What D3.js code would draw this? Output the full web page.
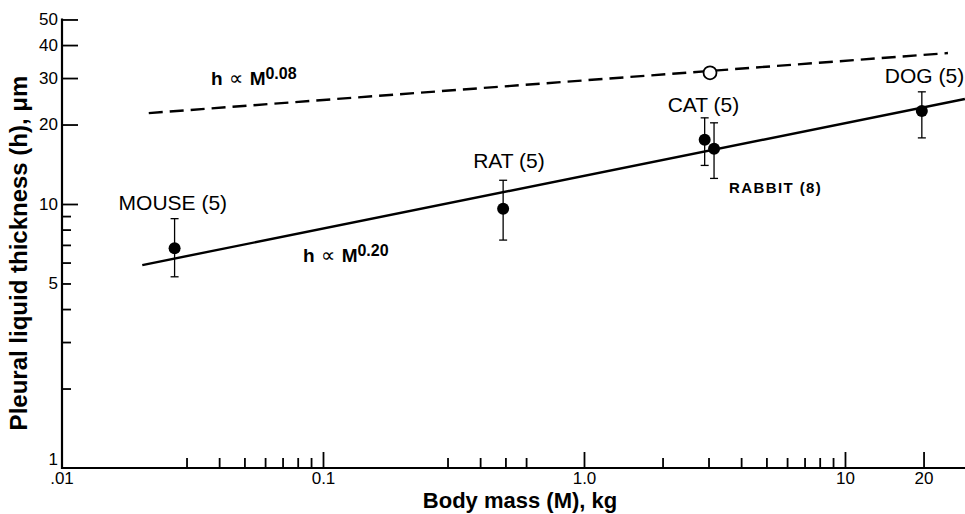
<!DOCTYPE html>
<html>
<head>
<meta charset="utf-8">
<script src="https://cdn.jsdelivr.net/npm/d3@7"></script>
<style>
  html, body { margin: 0; padding: 0; background: #fff; }
  svg { display: block; }
  text { font-family: "Liberation Sans", Arial, Helvetica, sans-serif; fill: #000; }
</style>
</head>
<body>
<svg id="chart" width="965" height="514"></svg>
<script>
// ---------- data ----------
const animals   = ["MOUSE (5)", "RAT (5)", "CAT (5)", "RABBIT (8)", "DOG (5)"];
const mass      = [0.027, 0.49, 2.9, 3.15, 19.7];     // kg
const thickness = [6.8, 9.6, 17.5, 16.2, 22.5];       // µm
const errHigh   = [8.8, 12.3, 21.2, 20.3, 26.6];
const errLow    = [5.3, 7.3, 14.0, 12.5, 17.8];

// fitted allometric lines (end points)
const fitMass   = [0.0203, 28.8];
const fitH      = [5.87, 25.0];      // h ∝ M^0.20
const dashMass  = [0.0215, 24.8];
const dashH     = [22.1, 37.3];      // h ∝ M^0.08
const openMass  = [3.04];
const openH     = [31.4];

// ticks
const xMajorTicks  = [0.1, 1, 10, 20];
const xMajorLabels = ["0.1", "1.0", "10", "20"];
const xMinorTicks  = [0.03, 0.04, 0.05, 0.06, 0.07, 0.08, 0.09, 0.3, 0.4, 0.5, 0.6, 2, 3, 4, 5, 6, 7, 8, 9];
const yMajorTicks  = [10, 20, 30, 40, 50];
const yMinorTicks  = [2, 3, 4, 5, 6, 7, 8, 9];
const yMinorLabels = {5: "5"};

// ---------- layout ----------
const svg = d3.select("#chart");
const x0 = 62, x1 = 965, y0 = 468;
const x = d3.scaleLog().domain([0.01, 28.83]).range([x0, x1]);
const y = d3.scaleLog().domain([1, 50]).range([y0, y0 - Math.log10(50) * 264]);

// axes
const gx = svg.append("g").attr("transform", `translate(0,${y0})`);
gx.append("g").call(d3.axisBottom(x).tickValues(xMinorTicks).tickSize(-10).tickSizeOuter(0).tickFormat(""))
  .call(g => g.select(".domain").remove());
gx.append("g").call(d3.axisBottom(x).tickValues(xMajorTicks).tickSize(-16).tickSizeOuter(0)
    .tickPadding(4).tickFormat((d, i) => xMajorLabels[i]))
  .call(g => g.select(".domain").remove());
gx.selectAll("line").attr("stroke", "#000").attr("stroke-width", 1.8);
gx.selectAll("text").attr("font-size", 17).attr("fill", "#000").attr("font-family", null);

const gy = svg.append("g").attr("transform", `translate(${x0},0)`);
gy.append("g").call(d3.axisLeft(y).tickValues(yMinorTicks).tickSize(-9).tickSizeOuter(0)
    .tickPadding(4).tickFormat(d => yMinorLabels[d] || ""))
  .call(g => g.select(".domain").remove());
gy.append("g").call(d3.axisLeft(y).tickValues(yMajorTicks).tickSize(-16).tickSizeOuter(0)
    .tickPadding(4).tickFormat(d3.format("d")))
  .call(g => g.select(".domain").remove());
gy.selectAll("line").attr("stroke", "#000").attr("stroke-width", 1.8);
gy.selectAll("text").attr("font-size", 17).attr("fill", "#000").attr("font-family", null);

// axis lines
svg.append("line").attr("x1", x0).attr("x2", x0).attr("y1", y(50) - 1).attr("y2", y0 + 1)
  .attr("stroke", "#000").attr("stroke-width", 2.2);
svg.append("line").attr("x1", x0 - 1).attr("x2", x1).attr("y1", y0).attr("y2", y0)
  .attr("stroke", "#000").attr("stroke-width", 2.2);

// corner labels
svg.append("text").attr("x", x0 - 4).attr("y", y(1) - 3).attr("text-anchor", "end")
  .attr("font-size", 17).text("1");
svg.append("text").attr("x", x(0.01)).attr("y", y0 + 16).attr("text-anchor", "middle")
  .attr("font-size", 17).text(".01");

// axis titles
svg.append("text").attr("x", 520).attr("y", 508).attr("text-anchor", "middle")
  .attr("font-size", 22).attr("font-weight", "bold").text("Body mass (M), kg");
svg.append("text").attr("transform", "translate(27,253) rotate(-90)").attr("text-anchor", "middle")
  .attr("font-size", 24).attr("font-weight", "bold").text("Pleural liquid thickness (h), μm");

// fit lines
const line = d3.line().x(d => x(d[0])).y(d => y(d[1]));
svg.append("path").datum(d3.zip(fitMass, fitH)).attr("d", line)
  .attr("fill", "none").attr("stroke", "#000").attr("stroke-width", 2.4);
svg.append("path").datum(d3.zip(dashMass, dashH)).attr("d", line)
  .attr("fill", "none").attr("stroke", "#000").attr("stroke-width", 2.4)
  .attr("stroke-dasharray", "14,7");

// open circle on dashed line
svg.selectAll("circle.open").data(d3.zip(openMass, openH)).join("circle")
  .attr("class", "open").attr("cx", d => x(d[0])).attr("cy", d => y(d[1])).attr("r", 6.5)
  .attr("fill", "#fff").attr("stroke", "#000").attr("stroke-width", 1.8);

// error bars
const pts = animals.map((a, i) => ({ a, m: mass[i], h: thickness[i], hi: errHigh[i], lo: errLow[i] }));
const eb = svg.append("g").attr("stroke", "#000").attr("stroke-width", 1.3);
pts.forEach(p => {
  eb.append("line").attr("x1", x(p.m)).attr("x2", x(p.m)).attr("y1", y(p.hi)).attr("y2", y(p.lo));
  eb.append("line").attr("x1", x(p.m) - 4).attr("x2", x(p.m) + 4).attr("y1", y(p.hi)).attr("y2", y(p.hi));
  eb.append("line").attr("x1", x(p.m) - 4).attr("x2", x(p.m) + 4).attr("y1", y(p.lo)).attr("y2", y(p.lo));
});
svg.selectAll("circle.pt").data(pts).join("circle").attr("class", "pt")
  .attr("cx", d => x(d.m)).attr("cy", d => y(d.h)).attr("r", 6).attr("fill", "#000");

// point labels (offsets are layout)
const labelOffsets = {
  "MOUSE (5)": [-56, -38], "RAT (5)": [-30, -41], "CAT (5)": [-37, -28],
  "RABBIT (8)": [15, 44], "DOG (5)": [-37, -28]
};
pts.forEach(p => {
  const o = labelOffsets[p.a];
  const t = svg.append("text").attr("x", x(p.m) + o[0]).attr("y", y(p.h) + o[1]).text(p.a);
  if (p.a.startsWith("RABBIT")) {
    t.attr("font-size", 15).attr("font-weight", "bold").attr("letter-spacing", 1.4)
     .attr("font-family", "'Liberation Sans Narrow', 'Arial Narrow', 'DejaVu Sans Condensed', sans-serif");
  } else {
    t.attr("font-size", 21);
  }
});

// power-law annotations
function powerLabel(px, py, exp) {
  const t = svg.append("text").attr("x", px).attr("y", py).attr("font-size", 19);
  t.append("tspan").attr("font-weight", "bold").text("h");
  t.append("tspan").attr("font-size", 20).attr("font-family", "'DejaVu Sans', sans-serif").text(" \u221D ");
  t.append("tspan").attr("font-weight", "bold").text("M");
  t.append("tspan").attr("font-weight", "bold").attr("font-size", 16).attr("dy", -6).text(exp);
}
powerLabel(211, 85, "0.08");
powerLabel(303, 262, "0.20");
</script>
</body>
</html>
